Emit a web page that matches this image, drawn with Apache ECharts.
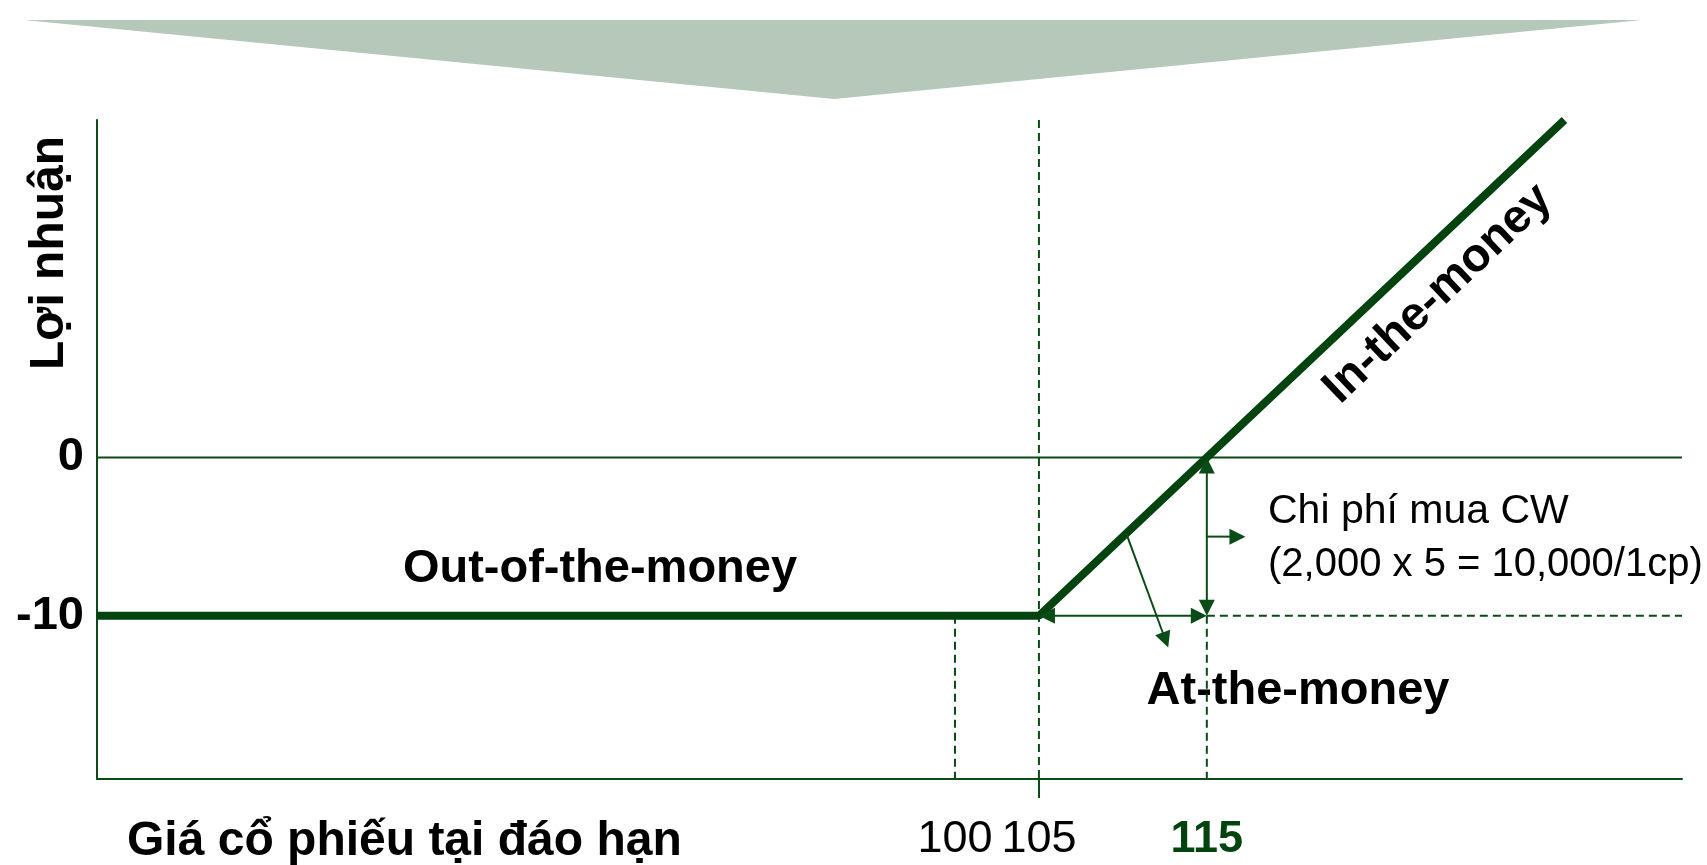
<!DOCTYPE html>
<html>
<head>
<meta charset="utf-8">
<script src="https://cdn.jsdelivr.net/npm/echarts@6/dist/echarts.min.js"></script>
<style>
html,body{margin:0;padding:0;background:#fff;}
#chart{width:1707px;height:865px;}
</style>
</head>
<body>
<div id="chart"></div>
<script>
// ---------- data ----------
const payoffX = [48.9, 105, 136.3];        // stock price at expiry
const payoffY = [-10, -10, 21.3];          // profit
const xTickValues = [100, 105, 115];
const yTickValues = [0, -10];
const strikePrice = 105;
const breakEven = 115;
const premiumCost = -10;
const xTitle = 'Giá cổ phiếu tại đáo hạn';
const yTitle = 'Lợi nhuận';
const zoneLabels = ['Out-of-the-money', 'At-the-money', 'In-the-money'];
const costLabel = ['Chi phí mua CW', '(2,000 x 5 = 10,000/1cp)'];

// axis extents
const X_MIN = 48.9, X_MAX = 143.3, Y_MIN = -20.3, Y_MAX = 21.3;

// guide segments [x1, y1, x2, y2]
const dashedGuides = [
  [100, premiumCost, 100, Y_MIN],
  [strikePrice, Y_MAX, strikePrice, Y_MIN],
  [breakEven, premiumCost, breakEven, Y_MIN],
  [breakEven, premiumCost, X_MAX, premiumCost]
];
const solidGuides = [
  [X_MIN, 0, X_MAX, 0]
];
// arrows [x1, y1, x2, y2]
const arrowsBothEnds = [
  [strikePrice, premiumCost, breakEven, premiumCost],
  [breakEven, 0, breakEven, premiumCost]
];
const arrowsOneEnd = [
  [breakEven, -5, 117.3, -5],
  [110.2, -4.8, 112.7, -12]
];

// ---------- style ----------
const C_THICK = '#02430f';
const C_THIN = '#0a4c17';
const FONT = '"Liberation Sans", Arial, Helvetica, sans-serif';

function segItem(dash) {
  return function (params, api) {
    const a = api.coord([api.value(0), api.value(1)]);
    const b = api.coord([api.value(2), api.value(3)]);
    return {
      type: 'line', silent: true,
      shape: { x1: a[0], y1: a[1], x2: b[0], y2: b[1] },
      style: { stroke: C_THIN, lineWidth: 2, lineDash: dash ? [8, 5] : null }
    };
  };
}

function arrowItem(both) {
  return function (params, api) {
    const p1 = api.coord([api.value(0), api.value(1)]);
    const p2 = api.coord([api.value(2), api.value(3)]);
    const dx = p2[0] - p1[0], dy = p2[1] - p1[1];
    const len = Math.hypot(dx, dy), ux = dx / len, uy = dy / len;
    const L = 16, W = 8;
    const head = (tip, fx, fy) => {
      const bx = tip[0] - fx * L, by = tip[1] - fy * L;
      return {
        type: 'polygon', silent: true,
        shape: { points: [tip, [bx - fy * W, by + fx * W], [bx + fy * W, by - fx * W]] },
        style: { fill: C_THIN }
      };
    };
    const kids = [];
    let a = p1, b = [p2[0] - ux * L * 0.7, p2[1] - uy * L * 0.7];
    kids.push(head(p2, ux, uy));
    if (both) {
      kids.push(head(p1, -ux, -uy));
      a = [p1[0] + ux * L * 0.7, p1[1] + uy * L * 0.7];
    }
    kids.push({
      type: 'line', silent: true,
      shape: { x1: a[0], y1: a[1], x2: b[0], y2: b[1] },
      style: { stroke: C_THIN, lineWidth: 2 }
    });
    return { type: 'group', children: kids };
  };
}

const chart = echarts.init(document.getElementById('chart'), null, { renderer: 'canvas' });

const option = {
  animation: false,
  backgroundColor: '#ffffff',
  grid: { left: 97, right: 25, top: 120, bottom: 86, containLabel: false, outerBoundsMode: 'none' },
  xAxis: {
    type: 'value', min: X_MIN, max: X_MAX,
    splitLine: { show: false },
    axisLine: { show: true, onZero: false, lineStyle: { color: C_THIN, width: 2 } },
    axisTick: { show: true, customValues: [strikePrice], length: 19, lineStyle: { color: C_THIN, width: 2 } },
    axisLabel: {
      customValues: xTickValues,
      hideOverlap: false,
      margin: 38,
      formatter: v => (v === breakEven ? '{b|' + v + '}' : '{n|' + v + '}'),
      rich: {
        n: { fontFamily: FONT, fontSize: 45, color: '#000', lineHeight: 45 },
        b: { fontFamily: FONT, fontSize: 45, fontWeight: 'bold', color: C_THICK, lineHeight: 45 }
      }
    }
  },
  yAxis: {
    type: 'value', min: Y_MIN, max: Y_MAX,
    splitLine: { show: false },
    axisLine: { show: true, onZero: false, lineStyle: { color: C_THIN, width: 2 } },
    axisTick: { show: false },
    axisLabel: {
      customValues: yTickValues,
      margin: 13,
      fontFamily: FONT, fontSize: 47, fontWeight: 'bold', color: '#000'
    }
  },
  series: [
    { type: 'custom', renderItem: segItem(true), data: dashedGuides, encode: { x: [0, 2], y: [1, 3] }, clip: false, z: 1, silent: true },
    { type: 'custom', renderItem: segItem(false), data: solidGuides, encode: { x: [0, 2], y: [1, 3] }, clip: false, z: 1, silent: true },
    {
      type: 'line', data: payoffX.map((x, i) => [x, payoffY[i]]),
      symbol: 'none', lineStyle: { color: C_THICK, width: 8, cap: 'butt' }, z: 3, silent: true
    },
    { type: 'custom', renderItem: arrowItem(true), data: arrowsBothEnds, encode: { x: [0, 2], y: [1, 3] }, clip: false, z: 4, silent: true },
    { type: 'custom', renderItem: arrowItem(false), data: arrowsOneEnd, encode: { x: [0, 2], y: [1, 3] }, clip: false, z: 4, silent: true }
  ],
  graphic: [
    { type: 'polygon', silent: true, shape: { points: [[24, 20], [1642, 20], [834, 99]] }, style: { fill: '#b5c8b9' } },
    { type: 'text', x: 50, y: 253, rotation: Math.PI / 2, silent: true,
      style: { text: yTitle, fontFamily: FONT, fontSize: 48, fontWeight: 'bold', fill: '#000', align: 'center', verticalAlign: 'middle' } },
    { type: 'text', x: 127, y: 842, silent: true,
      style: { text: xTitle, fontFamily: FONT, fontSize: 48, fontWeight: 'bold', fill: '#000', align: 'left', verticalAlign: 'middle' } },
    { type: 'text', x: 600, y: 569, silent: true,
      style: { text: zoneLabels[0], fontFamily: FONT, fontSize: 47, fontWeight: 'bold', fill: '#000', align: 'center', verticalAlign: 'middle' } },
    { type: 'text', x: 1298, y: 691, silent: true,
      style: { text: zoneLabels[1], fontFamily: FONT, fontSize: 47, fontWeight: 'bold', fill: '#000', align: 'center', verticalAlign: 'middle' } },
    { type: 'text', x: 1438, y: 294, rotation: 43.5 * Math.PI / 180, silent: true,
      style: { text: zoneLabels[2], fontFamily: FONT, fontSize: 47, fontWeight: 'bold', fill: '#000', align: 'center', verticalAlign: 'middle' } },
    { type: 'text', x: 1268, y: 512, silent: true,
      style: { text: costLabel[0], fontFamily: FONT, fontSize: 41, fill: '#000', align: 'left', verticalAlign: 'middle' } },
    { type: 'text', x: 1268, y: 565, silent: true,
      style: { text: costLabel[1], fontFamily: FONT, fontSize: 40, fill: '#000', align: 'left', verticalAlign: 'middle' } }
  ]
};
chart.setOption(option);
</script>
</body>
</html>
